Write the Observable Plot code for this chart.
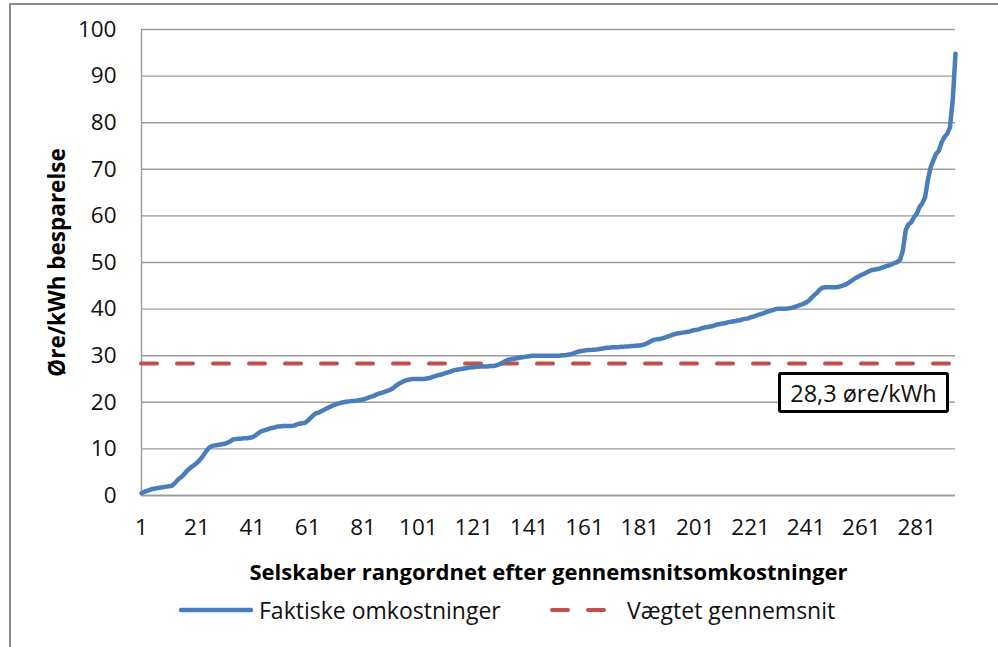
<!DOCTYPE html>
<html>
<head>
<meta charset="utf-8">
<script src="https://cdn.jsdelivr.net/npm/d3@7"></script>
<script src="https://cdn.jsdelivr.net/npm/@observablehq/plot@0.6"></script>
<style>
html, body { margin: 0; padding: 0; background: #fff; overflow: hidden; }
#wrap { position: relative; width: 998px; height: 647px; overflow: hidden; font-family: "Open Sans", sans-serif; color: #111; }
#frame { position: absolute; left: 9px; top: 3px; width: 1200px; height: 900px; border: 2px solid #8c8c8c; box-sizing: border-box; }
#chart { position: absolute; left: 0; top: 0; }
.legend-item { position: absolute; display: flex; align-items: center; font-size: 23px; line-height: 1; white-space: nowrap; }
#avgbox { position: absolute; box-sizing: border-box; border: 3px solid #000; border-radius: 3px; background: #fff;
  font-size: 23.5px; display: flex; align-items: center; justify-content: center; white-space: nowrap; }
</style>
</head>
<body>
<div id="wrap">
  <div id="frame"></div>
  <div id="chart"></div>
</div>
<script>
// ---- data ----
const xTicks = [1, 21, 41, 61, 81, 101, 121, 141, 161, 181, 201, 221, 241, 261, 281];
const yTicks = [0, 10, 20, 30, 40, 50, 60, 70, 80, 90, 100];
const seriesNames = ["Faktiske omkostninger", "Vægtet gennemsnit"];
const xTitle = "Selskaber rangordnet efter gennemsnitsomkostninger";
const yTitle = "Øre/kWh besparelse";
const averageValue = 28.3;
const averageLabel = "28,3 øre/kWh";
// Faktiske omkostninger, companies ranked 1..295
const faktiske = [
  0.5, 0.8, 1.0, 1.2, 1.4, 1.5, 1.6, 1.7, 1.8, 1.9,
  2.0, 2.1, 2.6, 3.3, 3.8, 4.3, 5.0, 5.6, 6.1, 6.5,
  7.0, 7.6, 8.3, 9.2, 10.0, 10.5, 10.7, 10.8, 10.9, 11.0,
  11.1, 11.3, 11.6, 12.0, 12.1, 12.2, 12.2, 12.3, 12.3, 12.4,
  12.5, 12.8, 13.3, 13.7, 13.9, 14.1, 14.3, 14.5, 14.6, 14.8,
  14.8, 14.9, 14.9, 14.9, 14.9, 15.0, 15.2, 15.4, 15.5, 15.6,
  16.0, 16.6, 17.2, 17.6, 17.8, 18.1, 18.4, 18.7, 19.0, 19.3,
  19.5, 19.7, 19.9, 20.0, 20.1, 20.2, 20.3, 20.3, 20.4, 20.5,
  20.6, 20.8, 21.0, 21.2, 21.4, 21.7, 21.9, 22.1, 22.3, 22.5,
  22.7, 23.1, 23.6, 24.0, 24.3, 24.6, 24.8, 24.9, 25.0, 25.0,
  25.0, 25.0, 25.0, 25.1, 25.2, 25.4, 25.6, 25.8, 25.9, 26.1,
  26.3, 26.5, 26.7, 26.9, 27.0, 27.1, 27.2, 27.3, 27.4, 27.5,
  27.5, 27.6, 27.7, 27.7, 27.7, 27.7, 27.8, 27.8, 27.9, 28.1,
  28.4, 28.7, 29.0, 29.2, 29.3, 29.4, 29.5, 29.6, 29.7, 29.8,
  29.9, 30.0, 30.0, 30.0, 30.0, 30.0, 30.0, 30.0, 30.0, 30.0,
  30.0, 30.0, 30.1, 30.1, 30.2, 30.3, 30.5, 30.7, 30.9, 31.0,
  31.1, 31.2, 31.2, 31.3, 31.3, 31.4, 31.5, 31.6, 31.7, 31.7,
  31.8, 31.8, 31.8, 31.9, 31.9, 32.0, 32.0, 32.1, 32.1, 32.2,
  32.2, 32.3, 32.5, 32.8, 33.1, 33.4, 33.5, 33.6, 33.7, 33.9,
  34.1, 34.3, 34.5, 34.7, 34.8, 34.9, 35.0, 35.1, 35.2, 35.4,
  35.5, 35.6, 35.8, 36.0, 36.1, 36.2, 36.3, 36.5, 36.7, 36.8,
  36.9, 37.0, 37.2, 37.3, 37.4, 37.5, 37.6, 37.8, 37.9, 38.0,
  38.2, 38.4, 38.6, 38.8, 39.0, 39.2, 39.4, 39.6, 39.8, 40.0,
  40.1, 40.1, 40.1, 40.1, 40.2, 40.3, 40.5, 40.7, 40.9, 41.1,
  41.4, 41.8, 42.4, 43.0, 43.5, 44.2, 44.6, 44.7, 44.7, 44.7,
  44.7, 44.7, 44.8, 45.0, 45.2, 45.5, 45.9, 46.3, 46.7, 47.0,
  47.3, 47.6, 47.9, 48.2, 48.4, 48.5, 48.6, 48.8, 49.0, 49.2,
  49.4, 49.6, 49.9, 50.1, 50.6, 52.6, 56.9, 58.2, 58.6, 59.7,
  60.4, 61.9, 62.7, 64.0, 67.6, 70.4, 71.9, 73.3, 74.0, 75.8,
  76.9, 77.6, 79.0, 84.8, 94.8
];
const blue = "#4a7ebb";
const red = "#c0504d";
const gridColor = "#9b9b9b";

// ---- chart ----
const rows = faktiske.map((v, i) => ({rank: i + 1, value: v}));

const plot = Plot.plot({
  width: 998,
  height: 647,
  marginLeft: 141,
  marginRight: 43,
  marginTop: 29,
  marginBottom: 152,
  style: {fontFamily: "'Open Sans', sans-serif", fontSize: "22.5px", color: "#111", background: "transparent", overflow: "visible"},
  x: {domain: [1, faktiske.length]},
  y: {domain: [0, 100]},
  marks: [
    Plot.gridY(yTicks, {stroke: gridColor, strokeOpacity: 1, strokeWidth: 1.4}),
    Plot.ruleX([1], {stroke: gridColor, strokeWidth: 1.4}),
    Plot.ruleY([0], {stroke: gridColor, strokeWidth: 1.4}),
    Plot.axisY(yTicks, {tickSize: 0, tickPadding: 25, tickFormat: d => String(d), label: null, fill: "#111"}),
    Plot.axisX(xTicks, {tickSize: 0, tickPadding: 24, tickFormat: d => String(d), label: null, fill: "#111"}),
    Plot.ruleY([averageValue], {stroke: red, strokeWidth: 4, strokeDasharray: "16,20", strokeLinecap: "round"}),
    Plot.line(rows, {x: "rank", y: "value", stroke: blue, strokeWidth: 4.5, strokeLinejoin: "round", strokeLinecap: "round"}),
    Plot.text([xTitle], {frameAnchor: "bottom", textAnchor: "middle", lineAnchor: "middle", dy: 77, fontWeight: "bold", fontSize: 22, fill: "#000"}),
    Plot.text([yTitle], {frameAnchor: "left", textAnchor: "middle", lineAnchor: "middle", dx: -84, rotate: -90, fontWeight: "bold", fontSize: 22.5, fill: "#000"})
  ]
});
document.getElementById("chart").appendChild(plot);

// ---- annotation box anchored via the plot scales ----
const sx = plot.scale("x"), sy = plot.scale("y");
const wrap = document.getElementById("wrap");
const box = document.createElement("div");
box.id = "avgbox";
box.textContent = averageLabel;
const boxW = 171, boxH = 41;
const boxRight = sx.apply(faktiske.length) - 6;
const boxTop = sy.apply(averageValue) + 9;
box.style.left = (boxRight - boxW) + "px";
box.style.top = boxTop + "px";
box.style.width = boxW + "px";
box.style.height = boxH + "px";
wrap.appendChild(box);

// ---- legend ----
function legendItem(left, name, sampleSvg) {
  const d = document.createElement("div");
  d.className = "legend-item";
  d.style.left = left + "px";
  d.style.top = "597px";
  d.style.height = "26px";
  d.innerHTML = sampleSvg + `<span style="margin-left:5px">${name}</span>`;
  wrap.appendChild(d);
}
legendItem(178, seriesNames[0],
  `<svg width="76" height="10"><line x1="3" y1="5" x2="73" y2="5" stroke="${blue}" stroke-width="4.5" stroke-linecap="round"/></svg>`);
legendItem(548, seriesNames[1],
  `<svg width="74" height="10"><line x1="4" y1="5" x2="60" y2="5" stroke="${red}" stroke-width="4" stroke-dasharray="16,20" stroke-linecap="round"/></svg>`);
</script>
</body>
</html>
